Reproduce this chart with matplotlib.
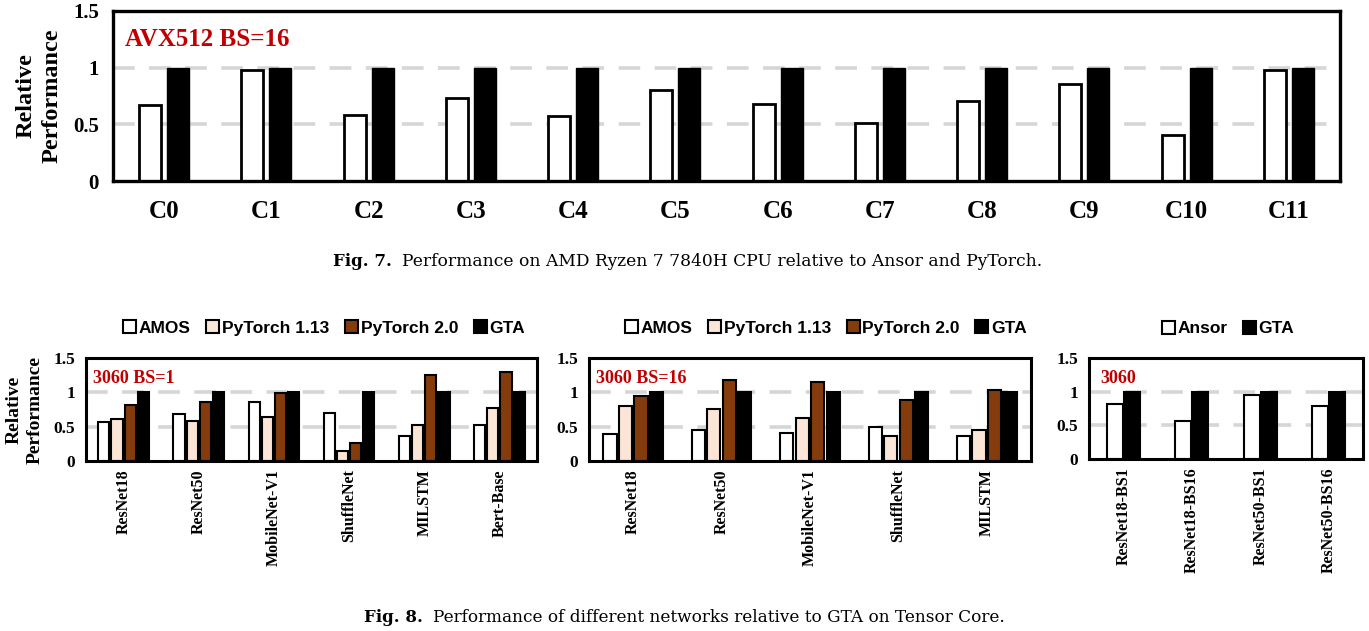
import numpy as np
import matplotlib.pyplot as plt
from matplotlib.patches import Patch

# Fig. 7 data (CPU, relative to PyTorch/GTA)
cpu_cases = ["C0", "C1", "C2", "C3", "C4", "C5", "C6", "C7", "C8", "C9", "C10", "C11"]
cpu_ansor = [0.67, 0.98, 0.58, 0.73, 0.57, 0.80, 0.68, 0.51, 0.71, 0.86, 0.41, 0.98]
cpu_gta = [1, 1, 1, 1, 1, 1, 1, 1, 1, 1, 1, 1]

# Fig. 8 data (Tensor Core)
nets_bs1 = ["ResNet18", "ResNet50", "MobileNet-V1", "ShuffleNet", "MILSTM", "Bert-Base"]
bs1_amos = [0.565, 0.685, 0.86, 0.705, 0.37, 0.53]
bs1_pt113 = [0.61, 0.585, 0.64, 0.14, 0.53, 0.77]
bs1_pt20 = [0.81, 0.855, 0.985, 0.26, 1.255, 1.29]
bs1_gta = [1, 1, 1, 1, 1, 1]

nets_bs16 = ["ResNet18", "ResNet50", "MobileNet-V1", "ShuffleNet", "MILSTM"]
bs16_amos = [0.395, 0.457, 0.41, 0.49, 0.357]
bs16_pt113 = [0.80, 0.76, 0.63, 0.36, 0.45]
bs16_pt20 = [0.94, 1.18, 1.15, 0.895, 1.04]
bs16_gta = [1, 1, 1, 1, 1]

ansor_cases = ["ResNet18-BS1", "ResNet18-BS16", "ResNet50-BS1", "ResNet50-BS16"]
ansor_vals = [0.815, 0.56, 0.955, 0.78]
ansor_gta = [1, 1, 1, 1]

SERIF = "Liberation Serif"
SANS = "Liberation Sans"
RED = "#C00000"
PEACH = "#FBE5D6"
BROWN = "#843C0C"
GRID = "#D6D6D6"

W, H = 1369, 631
fig = plt.figure(figsize=(W / 100, H / 100), dpi=100)


def px_axes(left, top, right, bottom):
    return fig.add_axes([left / W, 1 - bottom / H, (right - left) / W, (bottom - top) / H])


def style_axes(ax, frame_lw, tick_size, pad):
    ax.set_ylim(0, 1.5)
    ax.set_yticks([0, 0.5, 1, 1.5])
    ax.set_yticklabels(["0", "0.5", "1", "1.5"])
    for s in ax.spines.values():
        s.set_linewidth(frame_lw)
    ax.tick_params(length=0)
    ax.tick_params(axis="y", pad=pad, labelsize=tick_size)
    for lab in ax.get_yticklabels():
        lab.set_fontfamily(SERIF)
        lab.set_fontweight("bold")
    for y in (0.5, 1.0):
        ax.axhline(y, color=GRID, lw=2.6, ls=(0, (6, 4)), zorder=0)


# ---- Fig. 7 ----
ax = px_axes(113, 11, 1340, 181)
x = np.arange(len(cpu_cases))
ax.bar(x - 0.137, cpu_ansor, 0.215, color="white", edgecolor="black", lw=2, zorder=2)
ax.bar(x + 0.137, cpu_gta, 0.215, color="black", edgecolor="black", lw=1, zorder=2)
ax.set_xlim(-0.5, len(cpu_cases) - 0.5)
ax.set_xticks(x)
ax.set_xticklabels(cpu_cases, fontfamily=SERIF, fontweight="bold", fontsize=18)
style_axes(ax, 2.4, 15, 10)
ax.tick_params(axis="x", pad=14)
ax.set_ylabel("Relative\nPerformance", fontfamily=SERIF, fontweight="bold",
              fontsize=17.5, labelpad=8, linespacing=1.3)
ax.text(0.01, 0.83, "AVX512 BS=16", transform=ax.transAxes, color=RED,
        fontfamily=SERIF, fontweight="bold", fontsize=18, va="center")

fig.text(333 / W, 1 - 262 / H, "Fig. 7.", fontfamily="DejaVu Serif",
         fontweight="bold", fontsize=12, va="center")
fig.text(402 / W, 1 - 262 / H,
         "Performance on AMD Ryzen 7 7840H CPU relative to Ansor and PyTorch.",
         fontfamily="DejaVu Serif", fontsize=12.3, va="center")


# ---- Fig. 8 ----
def grouped(ax, names, series, colors, width, step):
    x = np.arange(len(names))
    n = len(series)
    for i, (vals, col) in enumerate(zip(series, colors)):
        off = (i - (n - 1) / 2) * step
        ax.bar(x + off, vals, width, color=col, edgecolor="black", lw=1.5, zorder=2)
    ax.set_xlim(-0.5, len(names) - 0.5)
    ax.set_xticks(x)
    ax.set_xticklabels(names, rotation=90, fontfamily=SERIF, fontweight="bold", fontsize=11.5)
    style_axes(ax, 2.2, 12.5, 8)
    ax.tick_params(axis="x", pad=6)


def legend(ax, labels, colors, xc):
    handles = [Patch(facecolor=c, edgecolor="black", lw=1.5) for c in colors]
    ax.legend(handles, labels, loc="center", bbox_to_anchor=(xc, 1.29), ncol=len(labels),
              frameon=False, handlelength=0.75, handleheight=0.75, handletextpad=0.15,
              columnspacing=0.9, prop={"family": SANS, "weight": "bold", "size": 12.5})


four_colors = ["white", PEACH, BROWN, "black"]
four_labels = ["AMOS", "PyTorch 1.13", "PyTorch 2.0", "GTA"]

ax1 = px_axes(86, 358, 537, 461)
grouped(ax1, nets_bs1, [bs1_amos, bs1_pt113, bs1_pt20, bs1_gta], four_colors, 0.15, 0.175)
legend(ax1, four_labels, four_colors, 0.528)
ax1.set_ylabel("Relative\nPerformance", fontfamily=SERIF, fontweight="bold",
               fontsize=14, labelpad=7, linespacing=1.3)
ax1.text(0.015, 0.8, "3060 BS=1", transform=ax1.transAxes, color=RED,
         fontfamily=SERIF, fontweight="bold", fontsize=13, va="center")

ax2 = px_axes(589, 358, 1031, 461)
grouped(ax2, nets_bs16, [bs16_amos, bs16_pt113, bs16_pt20, bs16_gta], four_colors, 0.15, 0.175)
legend(ax2, four_labels, four_colors, 0.536)
ax2.text(0.015, 0.8, "3060 BS=16", transform=ax2.transAxes, color=RED,
         fontfamily=SERIF, fontweight="bold", fontsize=13, va="center")

ax3 = px_axes(1089, 358, 1363, 459)
grouped(ax3, ansor_cases, [ansor_vals, ansor_gta], ["white", "black"], 0.23, 0.25)
legend(ax3, ["Ansor", "GTA"], ["white", "black"], 0.507)
ax3.text(0.04, 0.8, "3060", transform=ax3.transAxes, color=RED,
         fontfamily=SERIF, fontweight="bold", fontsize=13, va="center")

fig.text(364 / W, 1 - 618 / H, "Fig. 8.", fontfamily="DejaVu Serif",
         fontweight="bold", fontsize=12, va="center")
fig.text(433 / W, 1 - 618 / H,
         "Performance of different networks relative to GTA on Tensor Core.",
         fontfamily="DejaVu Serif", fontsize=12.2, va="center")

fig.savefig("out.png", dpi=100)
